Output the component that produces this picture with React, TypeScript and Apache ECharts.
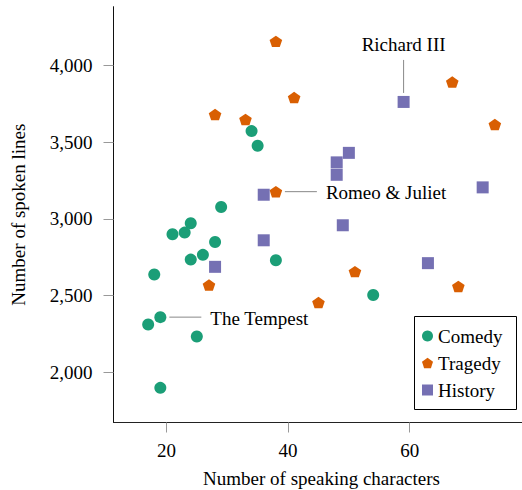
import React, { useEffect, useRef } from "react";
import * as echarts from "echarts";

// [speaking characters, spoken lines]
const comedy: [number, number][] = [
  [29, 3078], [24, 2972], [21, 2900], [23, 2911], [28, 2850], [26, 2766],
  [24, 2735], [38, 2731], [18, 2638], [19, 2360], [17, 2312], [25, 2234],
  [19, 1899], [34, 3573], [35, 3477], [54, 2504],
];
const tragedy: [number, number][] = [
  [38, 4158], [41, 3792], [28, 3681], [33, 3649], [38, 3178], [27, 2569],
  [45, 2455], [51, 2657], [67, 3893], [74, 3616], [68, 2560],
];
const history: [number, number][] = [
  [59, 3763], [50, 3431], [48, 3369], [48, 3288], [36, 3158], [36, 2861],
  [28, 2688], [49, 2959], [63, 2712], [72, 3206],
];

const xTicks = [20, 40, 60];
const yTicks = [2000, 2500, 3000, 3500, 4000];

const seriesNames = ["Comedy", "Tragedy", "History"];
const seriesColors = ["#1b9e77", "#d95f02", "#7570b3"];

// annotated plays: [label, x, y, direction]
const annotations: [string, number, number, "up" | "right"][] = [
  ["Richard III", 59, 3763, "up"],
  ["Romeo & Juliet", 38, 3178, "right"],
  ["The Tempest", 19, 2360, "right"],
];

const FONT = '"Liberation Serif", "DejaVu Serif", serif';
const PENTAGON =
  "path://M0,-1L0.951,-0.309L0.588,0.809L-0.588,0.809L-0.951,-0.309Z";

export default function App() {
  const ref = useRef<HTMLDivElement>(null);

  useEffect(() => {
    const chart = echarts.init(ref.current!, null, { renderer: "svg" });
    const all = [...comedy, ...tragedy, ...history];
    const xs = all.map((d) => d[0]);
    const ys = all.map((d) => d[1]);
    const xLo = Math.min(...xs), xHi = Math.max(...xs);
    const yLo = Math.min(...ys), yHi = Math.max(...ys);
    const xPad = (xHi - xLo) * 0.1;
    const yPad = (yHi - yLo) * 0.1;

    const option: any = {
      animation: false,
      backgroundColor: "#fff",
      textStyle: { fontFamily: FONT },
      grid: {
        left: 113.5,
        top: 6.7,
        width: 416,
        height: 415.8,
        containLabel: false,
        outerBoundsMode: "none",
      },
      xAxis: {
        type: "value",
        min: xLo - xPad,
        max: xHi + xPad,
        name: "Number of speaking characters",
        nameLocation: "middle",
        nameGap: 46,
        nameTextStyle: { fontSize: 19, color: "#000", fontFamily: FONT },
        axisLine: { show: true, onZero: false, lineStyle: { color: "#222", width: 1 } },
        axisTick: { show: true, customValues: xTicks, length: 10, lineStyle: { color: "#999" } },
        axisLabel: {
          customValues: xTicks,
          fontSize: 19,
          color: "#000",
          margin: 18,
          fontFamily: FONT,
        },
        splitLine: { show: false },
      },
      yAxis: {
        type: "value",
        min: yLo - yPad,
        max: yHi + yPad,
        name: "Number of spoken lines",
        nameLocation: "middle",
        nameGap: 86,
        nameTextStyle: { fontSize: 19, color: "#000", fontFamily: FONT },
        axisLine: { show: true, onZero: false, lineStyle: { color: "#111", width: 1 } },
        axisTick: { show: true, customValues: yTicks, length: 10, lineStyle: { color: "#999" } },
        axisLabel: {
          customValues: yTicks,
          fontSize: 19,
          color: "#000",
          margin: 21,
          fontFamily: FONT,
          formatter: (v: number) => v.toLocaleString("en-US"),
        },
        splitLine: { show: false },
      },
      legend: {
        orient: "vertical",
        left: 422,
        top: 326,
        padding: 0,
        itemGap: 7,
        itemWidth: 11,
        itemHeight: 11,
        z: 5,
        data: seriesNames,
        textStyle: { fontSize: 19, color: "#000", fontFamily: FONT, lineHeight: 20 },
      },
      series: [
        {
          name: seriesNames[0],
          type: "scatter",
          symbol: "circle",
          symbolSize: 12,
          itemStyle: { color: seriesColors[0], opacity: 1 },
          data: comedy,
        },
        {
          name: seriesNames[1],
          type: "scatter",
          symbol: PENTAGON,
          symbolKeepAspect: true,
          symbolSize: [12.6, 12],
          itemStyle: { color: seriesColors[1], opacity: 1 },
          data: tragedy,
        },
        {
          name: seriesNames[2],
          type: "scatter",
          symbol: "rect",
          symbolSize: 12,
          itemStyle: { color: seriesColors[2], opacity: 1 },
          data: history,
        },
      ],
    };
    chart.setOption(option);

    const graphics: any[] = [
      {
        type: "rect",
        z: 3,
        shape: { x: 414.5, y: 316.5, width: 102, height: 93 },
        style: { fill: "#fff", stroke: "#000", lineWidth: 1 },
      },
    ];
    annotations.forEach(([label, x, y, dir]) => {
      const p = chart.convertToPixel({ xAxisIndex: 0, yAxisIndex: 0 }, [x, y]) as number[];
      if (dir === "up") {
        graphics.push({
          type: "line",
          z: 3,
          shape: { x1: p[0], y1: p[1] - 42, x2: p[0], y2: p[1] - 9 },
          style: { stroke: "#888", lineWidth: 1 },
        });
        graphics.push({
          type: "text",
          z: 3,
          x: p[0],
          y: p[1] - 57,
          style: {
            text: label,
            fontSize: 19,
            fontFamily: FONT,
            fill: "#000",
            align: "center",
            verticalAlign: "middle",
          },
        });
      } else {
        graphics.push({
          type: "line",
          z: 3,
          shape: { x1: p[0] + 9, y1: p[1], x2: p[0] + 41, y2: p[1] },
          style: { stroke: "#888", lineWidth: 1 },
        });
        graphics.push({
          type: "text",
          z: 3,
          x: p[0] + 50,
          y: p[1] + 1,
          style: {
            text: label,
            fontSize: 19,
            fontFamily: FONT,
            fill: "#000",
            align: "left",
            verticalAlign: "middle",
          },
        });
      }
    });
    chart.setOption({ graphic: graphics });

    return () => chart.dispose();
  }, []);

  return (
    <div
      ref={ref}
      style={{ position: "absolute", left: 0, top: 0, width: 522, height: 490, background: "#fff" }}
    />
  );
}
